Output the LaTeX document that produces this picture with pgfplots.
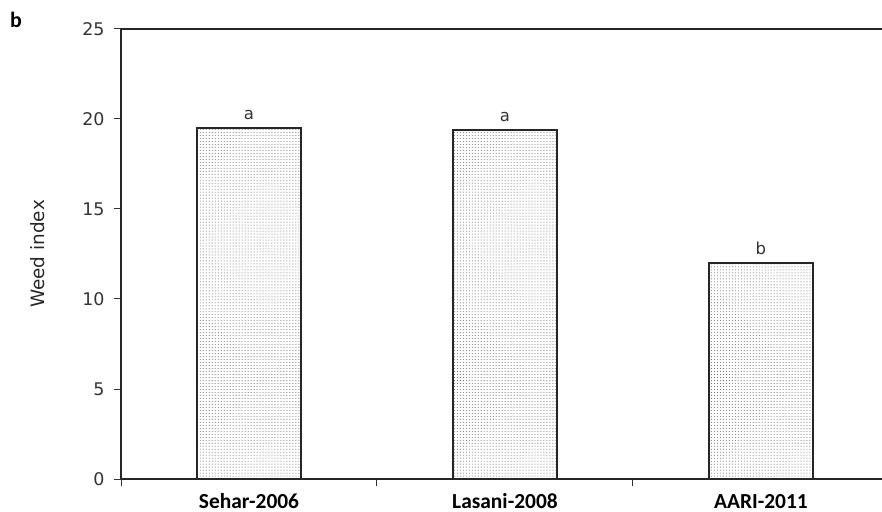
\documentclass[border=0pt]{standalone}
\usepackage{pgfplots}
\pgfplotsset{compat=1.18}
\usepackage{fontspec}
\setmainfont{Carlito}
\newfontfamily\dvs{DejaVu Sans}
\usetikzlibrary{patterns}
\begin{document}
\begin{tikzpicture}
\path[use as bounding box] (-121bp,-33bp) rectangle (761bp,479bp);
\begin{axis}[
  at={(0,0)}, anchor=south west,
  scale only axis, width=761bp, height=450bp,
  xmin=-0.5, xmax=2.473, ymin=0, ymax=25,
  axis x line=box, axis y line=left,
  axis line style={-, line width=1.3pt, black!85},
  xtick={0,1,2},
  xticklabels={Sehar-2006,Lasani-2008,AARI-2011},
  major x tick style={draw=none},
  minor xtick={-0.5,0.5,1.5},
  minor tick length=7bp,
  x tick label style={font=\fontsize{21.5}{24}\selectfont\bfseries, anchor=base, yshift=-22bp},
  ytick={0,5,10,15,20,25},
  y tick label style={font=\dvs\fontsize{17.5}{20}\selectfont, color=black!80, xshift=-6bp},
  /pgf/number format/assume math mode=true,
  tick style={line width=1pt, black!80},
  major tick length=7bp,
  xtick pos=bottom, ytick pos=left,
  tick align=outside,
  ylabel={Weed index},
  ylabel style={font=\dvs\fontsize{18.5}{20}\selectfont, color=black!85, at={(axis description cs:-0.109,0.5)}, anchor=center},
  ybar, bar width=104bp,
  clip=false,
  nodes near coords, point meta=explicit symbolic,
  every node near coord/.append style={font=\dvs\fontsize{16.5}{19}\selectfont, color=black!80, yshift=4bp},
]
\addplot[draw=black!85, line width=1.3pt, fill=white, postaction={pattern=dots, pattern color=black!65}]
  coordinates {(0,19.5) [a] (1,19.39) [a] (2,12.0) [b]};
\end{axis}
\node[anchor=north west, font=\fontsize{22}{24}\selectfont\bfseries, inner sep=0pt] at (-111bp,467bp) {b};
\end{tikzpicture}
\end{document}
